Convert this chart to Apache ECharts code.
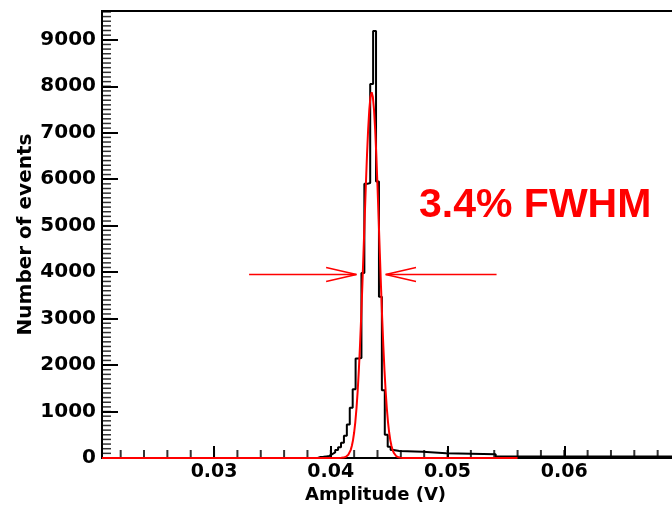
<!DOCTYPE html>
<html><head><meta charset="utf-8">
<script src="https://cdn.jsdelivr.net/npm/echarts@6/dist/echarts.min.js"></script>
<style>html,body{margin:0;padding:0;background:#fff}#c{width:672px;height:516px}</style>
</head><body><div id="c"></div>
<script>
// ---- axis range, ticks, labels ----
const xRange = [0.0204, 0.070];
const yRange = [0, 9620];
const xMajorTicks = [0.03, 0.04, 0.05, 0.06];
const xMinorTicks = [0.022, 0.024, 0.026, 0.028, 0.030, 0.032, 0.034, 0.036, 0.038, 0.040,
  0.042, 0.044, 0.046, 0.048, 0.050, 0.052, 0.054, 0.056, 0.058, 0.060,
  0.062, 0.064, 0.066, 0.068, 0.070];
const yMajorTicks = [0, 1000, 2000, 3000, 4000, 5000, 6000, 7000, 8000, 9000];
const yMinorTicks = [];
for (let v = 100; v <= 9600; v += 100) yMinorTicks.push(v);

// ---- histogram (left bin edges, counts) ----
const histEdges = [0.0204, 0.038875, 0.039125, 0.039375, 0.039625, 0.039875, 0.040125, 0.040375,
  0.040625, 0.040875, 0.041125, 0.041375, 0.041625, 0.041875, 0.042125, 0.042375,
  0.042625, 0.042875, 0.043125, 0.043375, 0.043625, 0.043875, 0.044125, 0.044375,
  0.044625, 0.044875, 0.045125, 0.045375, 0.045625, 0.045875, 0.047875, 0.049875, 0.054125];
const histCounts = [0, 20, 25, 35, 45, 85, 120, 170,
  230, 330, 480, 720, 1080, 1480, 2140, 2150,
  3980, 5900, 5920, 8050, 9190, 5950, 3470, 1460,
  500, 240, 170, 160, 150, 135, 100, 80, 30];
const histEnd = 0.070;

// ---- Gaussian fit curve ----
const fitX = [0.0204,
  0.0407, 0.0408, 0.0409, 0.0410, 0.0411, 0.0412, 0.0413, 0.0414, 0.0415, 0.0416,
  0.0417, 0.0418, 0.0419, 0.0420, 0.0421, 0.0422, 0.0423, 0.0424, 0.0425, 0.0426,
  0.0427, 0.0428, 0.0429, 0.0430, 0.0431, 0.0432, 0.0433, 0.0434, 0.0435, 0.0436,
  0.0437, 0.0438, 0.0439, 0.0440, 0.0441, 0.0442, 0.0443, 0.0444, 0.0445, 0.0446,
  0.0447, 0.0448, 0.0449, 0.0450, 0.0451, 0.0452, 0.0453, 0.0454, 0.0455, 0.0456,
  0.0457, 0.0458, 0.0459, 0.0460, 0.0461, 0.0462, 0.0463, 0.0560];
const fitY = [0,
  0, 1, 3, 5, 9, 15, 26, 43, 69, 110,
  170, 257, 380, 549, 774, 1065, 1432, 1879, 2410, 3017,
  3690, 4407, 5140, 5855, 6512, 7075, 7506, 7777, 7870, 7777,
  7506, 7075, 6512, 5855, 5140, 4407, 3690, 3017, 2410, 1879,
  1432, 1065, 774, 549, 380, 257, 170, 110, 69, 43,
  26, 15, 9, 5, 3, 1, 0, 0];

// ---- FWHM annotation (data space) ----
const fwhmLevel = 3950;
const arrowTails = [0.0330, 0.0542];
const arrowTips = [0.0422, 0.0447];
const headLen = 0.0026;
const headHalf = 150;
const annotationText = '3.4% FWHM';

const histData = histEdges.map((e, i) => [e, histCounts[i]]);
histData.push([histEnd, histCounts[histCounts.length - 1]]);
const fitData = fitX.map((x, i) => [x, fitY[i]]);

const red = '#ff0000';
const lblFont = '"DejaVu Sans", sans-serif';

function arrowSeries(tail, tip, dir) {
  return [
    { type: 'line', data: [[tail, fwhmLevel], [tip, fwhmLevel]], showSymbol: false, silent: true,
      lineStyle: { color: red, width: 1.5 }, z: 4 },
    { type: 'line', data: [[tip - dir * headLen, fwhmLevel + headHalf], [tip, fwhmLevel], [tip - dir * headLen, fwhmLevel - headHalf]],
      showSymbol: false, silent: true, lineStyle: { color: red, width: 1.5 }, z: 4 }
  ];
}

// minor ticks: small rect symbols placed through the axis scales
const xMinorSeries = {
  type: 'scatter', silent: true, clip: false, z: 5, animation: false,
  data: xMinorTicks.map(v => [v, yRange[0]]),
  symbol: 'rect', symbolSize: [2, 7], symbolOffset: [0, -4.5],
  itemStyle: { color: '#000' }
};
const yMinorSeries = {
  type: 'scatter', silent: true, clip: false, z: 5, animation: false,
  data: yMinorTicks.map(v => [xRange[0], v]),
  symbol: 'rect', symbolSize: [8, 1.5], symbolOffset: [5, 0],
  itemStyle: { color: '#000' }
};

const chart = echarts.init(document.getElementById('c'), null, { renderer: 'canvas' });
chart.setOption({
  animation: false,
  backgroundColor: '#fff',
  grid: { left: 102, top: 11, width: 579, height: 447, containLabel: false, outerBoundsMode: 'none',
    show: true, borderColor: '#000', borderWidth: 2, backgroundColor: 'transparent' },
  xAxis: {
    type: 'value', min: xRange[0], max: xRange[1], position: 'bottom',
    name: 'Amplitude (V)', nameLocation: 'middle', nameGap: 28, nameMoveOverlap: false,
    nameTextStyle: { fontFamily: lblFont, fontWeight: 'bold', fontSize: 18, color: '#000', padding: [0, 32, 0, 0] },
    axisLine: { show: true, onZero: false, lineStyle: { color: '#000', width: 2 } },
    axisTick: { show: true, inside: true, length: 12, customValues: xMajorTicks, lineStyle: { color: '#000', width: 2 } },
    axisLabel: { show: true, customValues: xMajorTicks, margin: 5, fontFamily: lblFont, fontWeight: 'bold', fontSize: 19, color: '#000',
      formatter: v => String(v) },
    splitLine: { show: false }
  },
  yAxis: {
    type: 'value', min: yRange[0], max: yRange[1], position: 'left',
    name: 'Number of events', nameLocation: 'middle', nameGap: 66, nameRotate: 90, nameMoveOverlap: false,
    nameTextStyle: { fontFamily: lblFont, fontWeight: 'bold', fontSize: 20, color: '#000' },
    axisLine: { show: true, onZero: false, lineStyle: { color: '#000', width: 2 } },
    axisTick: { show: true, inside: true, length: 16, customValues: yMajorTicks, lineStyle: { color: '#000', width: 2 } },
    axisLabel: { show: true, customValues: yMajorTicks, margin: 6, fontFamily: lblFont, fontWeight: 'bold', fontSize: 20, color: '#000',
      formatter: v => String(v) },
    splitLine: { show: false }
  },
  graphic: [
    { type: 'text', x: 419, y: 206, z: 10,
      style: { text: annotationText, fill: red, font: 'bold 41px "Liberation Sans", Arial, sans-serif', verticalAlign: 'middle', align: 'left' } }
  ],
  series: [
    { type: 'line', name: 'hist', data: histData, step: 'end', showSymbol: false, silent: true,
      lineStyle: { color: '#000', width: 2 }, z: 2 },
    { type: 'line', name: 'fit', data: fitData, showSymbol: false, silent: true,
      lineStyle: { color: red, width: 2 }, z: 3 },
    xMinorSeries,
    yMinorSeries,
    ...arrowSeries(arrowTails[0], arrowTips[0], 1),
    ...arrowSeries(arrowTails[1], arrowTips[1], -1)
  ]
});
</script>
</body></html>
